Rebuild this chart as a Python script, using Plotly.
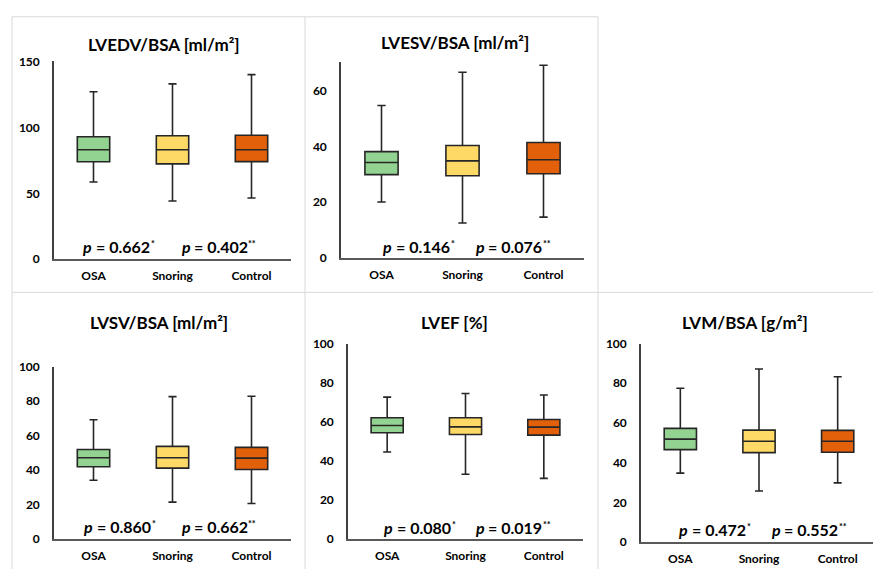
import plotly.graph_objects as go

# Screen mapping observed for the photographed page:
# screen_x = 8 + fig_x ; screen_y = 16.7 + 0.97 * fig_y
SX0, SY0, SYS = 8.0, 16.7, 0.97
FW, FH = 873, 569

categories = ["OSA", "Snoring", "Control"]
colors = ["#93D391", "#FFD966", "#E2600A"]

titles = ["LVEDV/BSA [ml/m²]", "LVESV/BSA [ml/m²]", "LVSV/BSA [ml/m²]", "LVEF [%]", "LVM/BSA [g/m²]"]

lvedv_min = [58.6, 44.2, 46.4]
lvedv_q1 = [73.9, 72.3, 74.0]
lvedv_med = [83.0, 83.0, 83.0]
lvedv_q3 = [92.9, 93.6, 94.0]
lvedv_max = [127.0, 133.0, 140.0]

lvesv_min = [20.1, 12.6, 14.7]
lvesv_q1 = [29.9, 29.5, 30.2]
lvesv_med = [34.2, 34.8, 35.2]
lvesv_q3 = [38.1, 40.3, 41.4]
lvesv_max = [54.6, 66.5, 69.0]

lvsv_min = [34.2, 21.5, 20.7]
lvsv_q1 = [42.0, 41.2, 40.4]
lvsv_med = [47.2, 47.2, 47.0]
lvsv_q3 = [52.0, 53.8, 53.2]
lvsv_max = [69.2, 82.6, 82.8]

lvef_min = [44.6, 33.2, 31.1]
lvef_q1 = [54.4, 53.5, 53.2]
lvef_med = [58.1, 57.4, 57.3]
lvef_q3 = [62.1, 62.1, 61.2]
lvef_max = [72.6, 74.5, 73.7]

lvm_min = [34.8, 25.8, 29.9]
lvm_q1 = [46.6, 45.1, 45.3]
lvm_med = [51.9, 50.8, 50.8]
lvm_q3 = [57.3, 56.4, 56.3]
lvm_max = [77.5, 87.2, 83.3]

p_first = ["0.662", "0.146", "0.860", "0.080", "0.472"]
p_second = ["0.402", "0.076", "0.662", "0.019", "0.552"]

y_max = [150, 70, 100, 100, 100]
y_dtick = [50, 20, 20, 20, 20]

panels = [
    (lvedv_min, lvedv_q1, lvedv_med, lvedv_q3, lvedv_max),
    (lvesv_min, lvesv_q1, lvesv_med, lvesv_q3, lvesv_max),
    (lvsv_min, lvsv_q1, lvsv_med, lvsv_q3, lvsv_max),
    (lvef_min, lvef_q1, lvef_med, lvef_q3, lvef_max),
    (lvm_min, lvm_q1, lvm_med, lvm_q3, lvm_max),
]

# plot areas in screen pixels: (x0, x1, ytop, ybottom)
areas = [
    (54, 291, 62, 259),
    (341, 584, 63, 258),
    (54, 291, 366, 538),
    (348, 583, 343, 538),
    (641, 877, 343, 541),
]
title_pos = [(164, 45), (455, 43), (159, 322), (455, 322), (745, 322)]
# left edge of each p-value text and its vertical centre (screen px)
p_left = [(82, 181), (382, 475), (83, 181), (383, 475), (678, 771)]
p_y = [246, 246, 525, 526, 528]

PAD = 2  # annotation borderpad + borderwidth


def px(x):
    return (x - SX0) / FW


def py(y):
    return 1 - ((y - SY0) / SYS) / FH


FONT = "Lato, 'Open Sans', sans-serif"
LINE = "#262626"

fig = go.Figure()
layout = dict(
    width=FW, height=FH, margin=dict(l=0, r=0, t=0, b=0),
    paper_bgcolor="white", plot_bgcolor="white",
    showlegend=False, boxmode="overlay",
    font=dict(family=FONT, color="#000000", size=12),
)
annotations = []
shapes = []


def add_text(x, y, text, size, xanchor="left", style="normal"):
    annotations.append(dict(
        xref="paper", yref="paper", x=px(x), y=py(y), text=text,
        showarrow=False, xanchor=xanchor, yanchor="middle",
        font=dict(family=FONT, size=size, color="#000000",
                  weight="bold", style=style),
    ))


for i, (mn, q1, med, q3, mx) in enumerate(panels):
    suffix = "" if i == 0 else str(i + 1)
    xa, ya = "x" + suffix, "y" + suffix
    for j, cat in enumerate(categories):
        fig.add_trace(go.Box(
            x=[cat], q1=[q1[j]], median=[med[j]], q3=[q3[j]],
            lowerfence=[mn[j]], upperfence=[mx[j]],
            fillcolor=colors[j], line=dict(color=LINE, width=1.6),
            width=0.41, whiskerwidth=0.25, boxpoints=False,
            xaxis=xa, yaxis=ya, hoverinfo="skip",
        ))
    x0, x1, yt, yb = areas[i]
    layout["xaxis" + suffix] = dict(
        domain=[px(x0), px(x1)], anchor=ya, type="category",
        categoryorder="array", categoryarray=categories,
        range=[-0.5, 2.5], showline=True, linecolor="#595959", linewidth=1.5,
        showgrid=False, zeroline=False, ticks="", ticklabelstandoff=5,
        tickfont=dict(family=FONT, size=12, color="#000000", weight="bold"),
        fixedrange=True,
    )
    layout["yaxis" + suffix] = dict(
        domain=[py(yb), py(yt)], anchor=xa,
        range=[0, y_max[i]], dtick=y_dtick[i], tick0=0,
        showline=True, linecolor="#404040", linewidth=1.6,
        showgrid=False, zeroline=False, ticks="", ticklabelstandoff=10,
        tickfont=dict(family=FONT, size=12, color="#000000", weight="bold"),
        fixedrange=True,
    )
    tx, ty = title_pos[i]
    add_text(tx, ty, titles[i], 17, xanchor="center")

    yy = p_y[i]
    for L, pv, stars, span in ((p_left[i][0], p_first[i], "*", 68),
                               (p_left[i][1], p_second[i], "**", 67)):
        add_text(L - PAD - 0.5, yy, "p", 16, style="italic")
        add_text(L + span + PAD, yy, "= " + pv, 16, xanchor="right")
        add_text(L + span - PAD + 0.5, yy - 2.5, stars, 9)

# panel borders
BC = "#D9D9D9"
TOP = 17.5
for (xa0, ya0, xa1, ya1) in [(12, TOP, 598, TOP), (12, 292, 881, 292),
                             (12, TOP, 12, 569), (305, TOP, 305, 569),
                             (598, TOP, 598, 569)]:
    shapes.append(dict(type="line", xref="paper", yref="paper",
                       x0=px(xa0), y0=py(ya0), x1=px(xa1), y1=py(ya1),
                       line=dict(color=BC, width=1), layer="below"))

layout["annotations"] = annotations
layout["shapes"] = shapes
fig.update_layout(**layout)
fig.write_html("out.html")
